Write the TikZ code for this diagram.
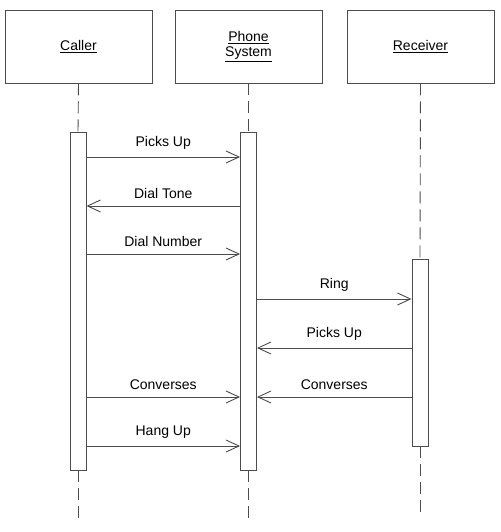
\documentclass[tikz,border=0pt]{standalone}
\usepackage{fontspec}
\setmainfont{Liberation Sans}
\usetikzlibrary{arrows.meta}

\begin{document}
\begin{tikzpicture}[x=1pt, y=-1pt, >={Straight Barb[length=13pt, width=12pt]},
  font=\fontsize{14}{17}\selectfont, color=black!70, line width=0.9pt,
  object/.style={draw, rectangle, minimum width=147pt, minimum height=73pt, align=center, text=black},
  lifebar/.style={draw, rectangle, minimum width=16pt, fill=white},
  lifeline/.style={dash pattern=on 12pt off 6pt},
  msg/.style={->},
  lbl/.style={text=black, inner sep=0pt}]
\useasboundingbox (0,0) rectangle (500,532);

% Objects
\node (caller) [object] at (78.5, 46.5) {\underline{Caller}};
\node (phone) [object] at (248.5, 46.5) {\underline{Phone}\\[-2pt]\underline{System}};
\node (receiver) [object] at (420.5, 46.5) {\underline{Receiver}};

% Activation bars
\node (cbar) [lifebar, minimum height=338pt] at (78, 301) {};
\node (pbar) [lifebar, minimum height=338pt] at (248.5, 301) {};
\node (rbar) [lifebar, minimum height=187pt] at (420, 352.5) {};

% Lifeline ends
\coordinate (cend) at (78, 519);
\coordinate (pend) at (248.5, 519);
\coordinate (rend) at (420, 514);

% Lifelines
\draw[lifeline] (caller.south) -- (cbar.north);
\draw[lifeline] (cbar.south) -- (cend);
\draw[lifeline] (phone.south) -- (pbar.north);
\draw[lifeline] (pbar.south) -- (pend);
\draw[lifeline] (receiver.south) -- (rbar.north);
\draw[lifeline] (rbar.south) -- (rend);

% Messages
\draw[msg] (cbar.east |- 0,157) -- (pbar.west |- 0,157) node[lbl, midway, above=7pt] {Picks Up};
\draw[msg] (pbar.west |- 0,206) -- (cbar.east |- 0,206) node[lbl, midway, above=7pt] {Dial Tone};
\draw[msg] (cbar.east |- 0,254) -- (pbar.west |- 0,254) node[lbl, midway, above=7pt] {Dial Number};
\draw[msg] (pbar.east |- 0,299) -- (rbar.west |- 0,299) node[lbl, midway, above=7pt] {Ring};
\draw[msg] (rbar.west |- 0,348) -- (pbar.east |- 0,348) node[lbl, midway, above=7pt] {Picks Up};
\draw[msg] (cbar.east |- 0,397) -- (pbar.west |- 0,397) node[lbl, midway, above=7pt] {Converses};
\draw[msg] (rbar.west |- 0,397) -- (pbar.east |- 0,397) node[lbl, midway, above=7pt] {Converses};
\draw[msg] (cbar.east |- 0,446) -- (pbar.west |- 0,446) node[lbl, midway, above=7pt] {Hang Up};

\end{tikzpicture}
\end{document}
